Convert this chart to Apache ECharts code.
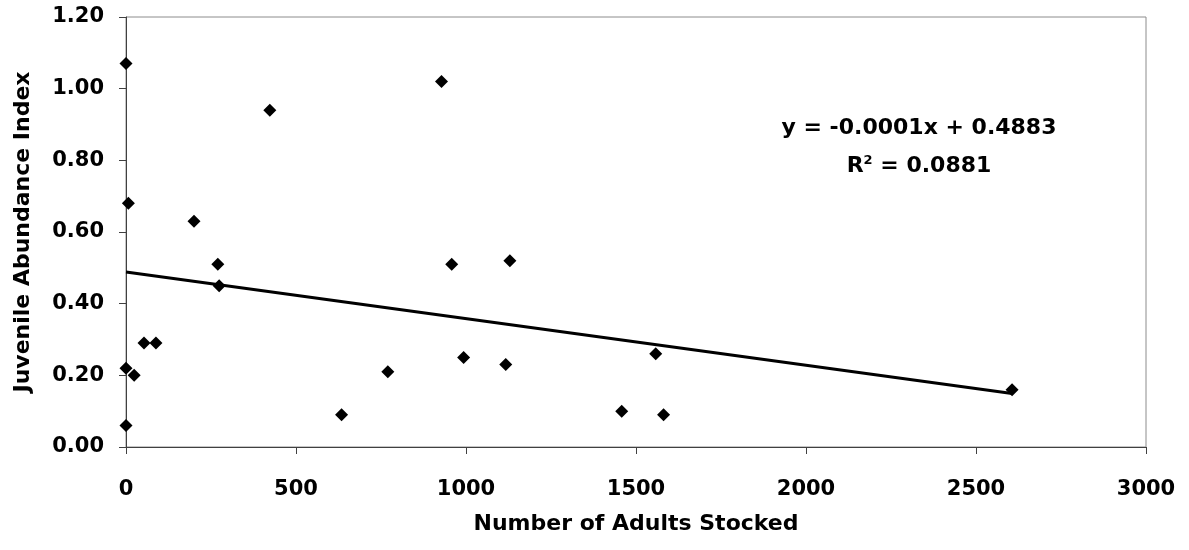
<!DOCTYPE html>
<html>
<head>
<meta charset="utf-8">
<script src="https://cdn.jsdelivr.net/npm/echarts@6/dist/echarts.min.js"></script>
<style>
  html, body { margin: 0; padding: 0; background: #fff; }
  #chart { width: 1189px; height: 550px; }
</style>
</head>
<body>
<div id="chart"></div>
<script>
// adults stocked vs juvenile abundance index
const adultsStocked = [0, 7, 200, 423, 928, 270, 274, 53, 88, 0, 24, 0, 634, 770, 958, 1129, 993, 1117, 1558, 1458, 1581, 2606]
const juvenileIndex = [1.07, 0.68, 0.63, 0.94, 1.02, 0.51, 0.45, 0.29, 0.29, 0.22, 0.20, 0.06, 0.09, 0.21, 0.51, 0.52, 0.25, 0.23, 0.26, 0.10, 0.09, 0.16]
const xTicks = [0, 500, 1000, 1500, 2000, 2500, 3000]
const yTicks = [0, 0.2, 0.4, 0.6, 0.8, 1.0, 1.2]
const equationText = 'y = -0.0001x + 0.4883'
const rSquaredText = '0.0881'

const FONT = 'DejaVu Sans'

// least squares fit for the trend line
const n = adultsStocked.length
const meanX = adultsStocked.reduce((s, v) => s + v, 0) / n
const meanY = juvenileIndex.reduce((s, v) => s + v, 0) / n
let sxy = 0
let sxx = 0
adultsStocked.forEach((x, i) => {
  sxy += (x - meanX) * (juvenileIndex[i] - meanY)
  sxx += (x - meanX) * (x - meanX)
})
const slope = sxy / sxx
const intercept = meanY - slope * meanX
const maxX = Math.max(...adultsStocked)
const trendLine = [[0, intercept], [maxX, intercept + slope * maxX]]

const points = adultsStocked.map((x, i) => [x, juvenileIndex[i]])

const chart = echarts.init(document.getElementById('chart'))

const labelStyle = {
  fontFamily: FONT,
  fontWeight: 'bold',
  fontSize: 21,
  color: '#000'
}

chart.setOption({
  animation: false,
  grid: {
    left: 126,
    right: 43,
    top: 17,
    bottom: 103,
    show: true,
    borderColor: '#8c8c8c',
    borderWidth: 1
  },
  xAxis: {
    type: 'value',
    min: xTicks[0],
    max: xTicks[xTicks.length - 1],
    interval: xTicks[1] - xTicks[0],
    name: 'Number of Adults Stocked',
    nameLocation: 'middle',
    nameGap: 66,
    nameTextStyle: { ...labelStyle, fontSize: 22 },
    axisLine: { show: true, lineStyle: { color: '#404040', width: 1 } },
    axisTick: { show: true, inside: false, length: 7, lineStyle: { color: '#404040' } },
    axisLabel: { ...labelStyle, margin: 32, formatter: v => String(v) },
    splitLine: { show: false }
  },
  yAxis: {
    type: 'value',
    min: yTicks[0],
    max: yTicks[yTicks.length - 1],
    interval: 0.2,
    name: 'Juvenile Abundance Index',
    nameLocation: 'middle',
    nameGap: 92,
    nameTextStyle: { ...labelStyle, fontSize: 22 },
    axisLine: { show: true, lineStyle: { color: '#404040', width: 1 } },
    axisTick: { show: true, inside: false, length: 7, lineStyle: { color: '#404040' } },
    axisLabel: { ...labelStyle, margin: 22, formatter: v => v.toFixed(2) },
    splitLine: { show: false }
  },
  graphic: [
    {
      type: 'text',
      x: 919,
      y: 117,
      style: {
        text: equationText,
        font: 'bold 22px "DejaVu Sans"',
        fill: '#000',
        align: 'center',
        verticalAlign: 'top'
      }
    },
    {
      type: 'text',
      x: 919,
      y: 154,
      style: {
        text: '{b|R}{s|2}{b| = ' + rSquaredText + '}',
        fill: '#000',
        align: 'center',
        verticalAlign: 'top',
        rich: {
          b: { fontFamily: FONT, fontWeight: 'bold', fontSize: 22, verticalAlign: 'bottom' },
          s: { fontFamily: FONT, fontWeight: 'bold', fontSize: 13, verticalAlign: 'top', padding: [0, 0, 10, 0] }
        }
      }
    }
  ],
  series: [
    {
      type: 'line',
      data: trendLine,
      symbol: 'none',
      lineStyle: { color: '#000', width: 3 },
      z: 2
    },
    {
      type: 'scatter',
      data: points,
      symbol: 'diamond',
      symbolSize: 13,
      itemStyle: { color: '#000', opacity: 1 },
      z: 3
    }
  ]
})
</script>
</body>
</html>
